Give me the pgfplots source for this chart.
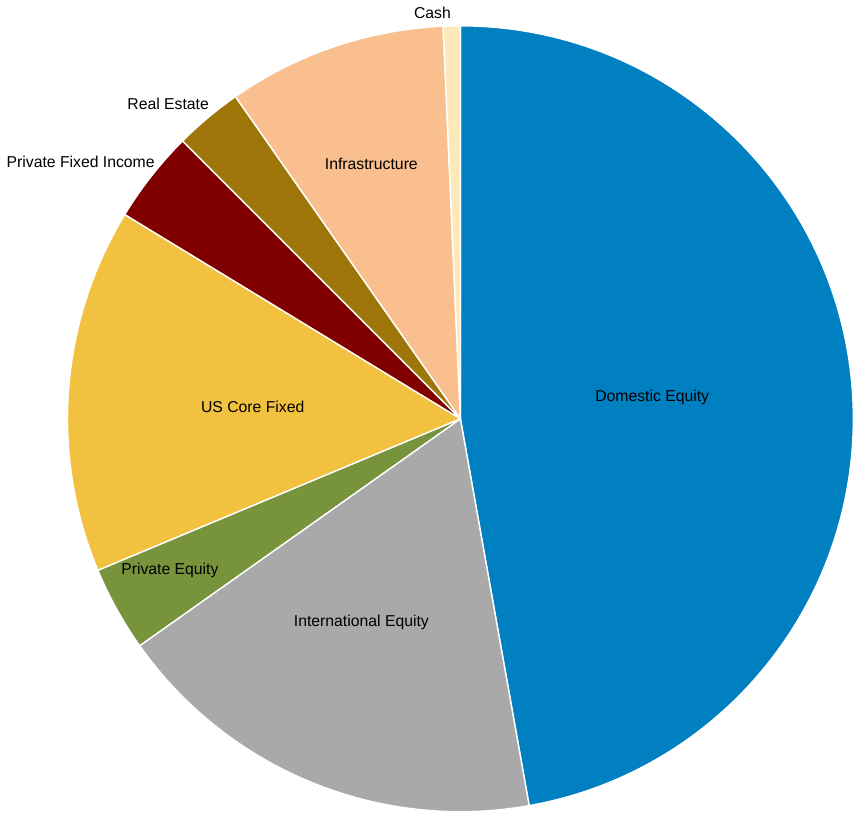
\documentclass[border=0pt]{standalone}
\usepackage{pgfplots}
\usepackage{pgfplotstable}
\pgfplotsset{compat=1.18}
\usepackage{fontspec}
\setmainfont{Liberation Sans}

\definecolor{cDom}{RGB}{0,128,192}
\definecolor{cIntl}{RGB}{169,169,169}
\definecolor{cPE}{RGB}{119,147,60}
\definecolor{cCore}{RGB}{242,193,63}
\definecolor{cPFI}{RGB}{128,0,0}
\definecolor{cRE}{RGB}{158,117,8}
\definecolor{cInfra}{RGB}{249,191,143}
\definecolor{cCash}{RGB}{253,233,185}

% share in percent, clockwise from 12 o'clock
\pgfplotstableread{
name value col
{Domestic Equity} 47.2 cDom
{International Equity} 18.0 cIntl
{Private Equity} 3.5 cPE
{US Core Fixed} 15.0 cCore
{Private Fixed Income} 3.8 cPFI
{Real Estate} 2.8 cRE
{Infrastructure} 9.0 cInfra
{Cash} 0.7 cCash
}\piedata

\begin{document}
\begin{tikzpicture}
\begin{axis}[
    scale only axis,
    width=431.5pt, height=407pt,
    xmin=0, xmax=863, ymin=0, ymax=814,
    hide axis, clip=false,
    nodes={font=\fontsize{7.9}{9}\selectfont, text=black}
  ]
  % keep the whole canvas as the picture's size
  \path (axis cs:0,0) rectangle (axis cs:863,814);

  \pgfplotstablegetrowsof{\piedata}
  \pgfmathtruncatemacro\N{\pgfplotsretval-1}
  \def\cum{90}
  \pgfplotsforeachungrouped \i in {0,...,\N}{
    \pgfplotstablegetelem{\i}{value}\of\piedata \let\v\pgfplotsretval
    \pgfplotstablegetelem{\i}{col}\of\piedata \let\c\pgfplotsretval
    \pgfmathsetmacro\a{\cum-3.6*\v}
    \edef\temp{\noexpand\fill[fill=\c, draw=white, line width=0.7pt, line join=round]
      (axis cs:459.3,395.5) -- ++(\cum:197pt)
      arc[start angle=\cum, end angle=\a, radius=197pt] -- cycle;}
    \temp
    \global\let\cum\a
  }

  \node[anchor=base] at (axis cs:651.6,413) {Domestic Equity};
  \node[anchor=base] at (axis cs:360,187.5) {International Equity};
  \node[anchor=base] at (axis cs:168,239) {Private Equity};
  \node[anchor=base] at (axis cs:251,401.5) {US Core Fixed};
  \node[anchor=base] at (axis cs:78.5,647.3) {Private Fixed Income};
  \node[anchor=base] at (axis cs:166.2,705.7) {Real Estate};
  \node[anchor=base] at (axis cs:370,645.5) {Infrastructure};
  \node[anchor=base] at (axis cs:431.3,797.3) {Cash};
\end{axis}
\end{tikzpicture}
\end{document}
